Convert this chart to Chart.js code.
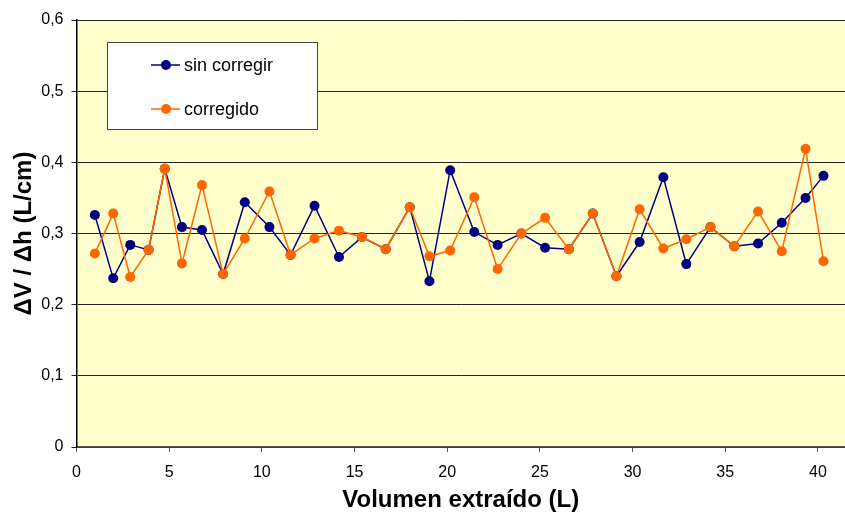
<!DOCTYPE html>
<html>
<head>
<meta charset="utf-8">
<script src="https://cdn.jsdelivr.net/npm/chart.js@4/dist/chart.umd.min.js"></script>
<style>
  html, body { margin: 0; padding: 0; background: #fff; }
  #wrap { width: 845px; height: 515px; }
</style>
</head>
<body>
<div id="wrap"><canvas id="c"></canvas></div>
<script>
// ── DATA ──────────────────────────────────────────────────────
// Volume extracted (L) at each reading
const volumen = [
  0.99, 1.98, 2.90, 3.89, 4.76, 5.69, 6.77, 7.91, 9.08, 10.41,
  11.55, 12.84, 14.16, 15.40, 16.68, 17.98, 19.04, 20.16, 21.46, 22.72,
  24.00, 25.28, 26.56, 27.85, 29.13, 30.38, 31.66, 32.90, 34.20, 35.49,
  36.77, 38.05, 39.33, 40.30
];
// ΔV / Δh (L/cm), raw readings
const sinCorregir = [
  0.326, 0.237, 0.284, 0.277, 0.391, 0.309, 0.305, 0.243, 0.344, 0.309,
  0.270, 0.339, 0.267, 0.295, 0.278, 0.337, 0.233, 0.389, 0.302, 0.284,
  0.300, 0.280, 0.278, 0.328, 0.240, 0.288, 0.379, 0.257, 0.309, 0.282,
  0.286, 0.315, 0.350, 0.381
];
// ΔV / Δh (L/cm), corrected readings
const corregido = [
  0.272, 0.328, 0.239, 0.277, 0.391, 0.258, 0.368, 0.243, 0.293, 0.359,
  0.270, 0.293, 0.304, 0.295, 0.278, 0.337, 0.268, 0.276, 0.351, 0.250,
  0.300, 0.322, 0.278, 0.328, 0.240, 0.334, 0.279, 0.292, 0.309, 0.282,
  0.331, 0.275, 0.419, 0.261
];
const xTicks = [0, 5, 10, 15, 20, 25, 30, 35, 40];
const yTicks = [0, 0.1, 0.2, 0.3, 0.4, 0.5, 0.6];

const FONT = "'Liberation Sans', Arial, sans-serif";
const toPts = ys => ys.map((y, i) => ({ x: volumen[i], y }));

// ── PLOT BACKGROUND ───────────────────────────────────────────
const plotBg = {
  id: 'plotBg',
  beforeDraw(chart) {
    const { ctx, chartArea: a } = chart;
    ctx.save();
    ctx.fillStyle = '#FFFFCC';
    ctx.fillRect(a.left, a.top, a.right - a.left, a.bottom - a.top);
    ctx.restore();
  }
};

// ── BOXED LEGEND INSIDE THE PLOT ──────────────────────────────
const boxLegend = {
  id: 'boxLegend',
  afterDraw(chart) {
    const { ctx } = chart;
    const x = 107.5, y = 42.5, w = 210, h = 87;
    ctx.save();
    ctx.fillStyle = '#fff';
    ctx.fillRect(x, y, w, h);
    ctx.strokeStyle = '#444';
    ctx.lineWidth = 1;
    ctx.strokeRect(x, y, w, h);
    ctx.font = '18px ' + FONT;
    ctx.textBaseline = 'middle';
    chart.data.datasets.forEach((ds, i) => {
      const cy = 65 + i * 44;
      ctx.strokeStyle = ds.borderColor;
      ctx.lineWidth = 1.5;
      ctx.beginPath();
      ctx.moveTo(151, cy);
      ctx.lineTo(180, cy);
      ctx.stroke();
      ctx.fillStyle = ds.pointBackgroundColor;
      ctx.beginPath();
      ctx.arc(166, cy, 5, 0, Math.PI * 2);
      ctx.fill();
      ctx.fillStyle = '#000';
      ctx.fillText(ds.label, 184, cy + 1);
    });
    ctx.restore();
  }
};

new Chart(document.getElementById('c'), {
  type: 'scatter',
  data: {
    datasets: [
      {
        label: 'sin corregir',
        data: toPts(sinCorregir),
        showLine: true,
        order: 1,
        borderColor: '#000080',
        borderWidth: 1.5,
        pointBackgroundColor: '#000080',
        pointBorderColor: '#000080',
        pointRadius: 5,
        pointBorderWidth: 0
      },
      {
        label: 'corregido',
        data: toPts(corregido),
        showLine: true,
        order: 0,
        borderColor: '#FF6600',
        borderWidth: 1.5,
        pointBackgroundColor: '#FF6600',
        pointBorderColor: '#FF6600',
        pointRadius: 5,
        pointBorderWidth: 0
      }
    ]
  },
  options: {
    responsive: true,
    maintainAspectRatio: false,
    animation: false,
    layout: { autoPadding: false, padding: { top: 20, right: 0, left: 0, bottom: 0 } },
    plugins: {
      legend: { display: false },
      tooltip: { enabled: false }
    },
    scales: {
      x: {
        type: 'linear',
        min: 0,
        max: 41.46,
        afterBuildTicks: s => { s.ticks = xTicks.map(v => ({ value: v })); },
        afterFit: s => { s.height = 68; },
        ticks: {
          color: '#000',
          font: { family: FONT, size: 16 },
          padding: 11,
          maxRotation: 0
        },
        grid: {
          drawOnChartArea: false,
          drawTicks: true,
          tickLength: 5,
          tickColor: '#555'
        },
        border: { color: '#555', width: 1.5 },
        title: {
          display: true,
          text: 'Volumen extraído (L)',
          color: '#000',
          font: { family: FONT, size: 24, weight: 'bold' },
          padding: { top: 4, bottom: 0 }
        }
      },
      y: {
        min: 0,
        max: 0.6,
        afterBuildTicks: s => { s.ticks = yTicks.map(v => ({ value: v })); },
        afterFit: s => { s.width = 76.5; },
        ticks: {
          color: '#000',
          font: { family: FONT, size: 16 },
          padding: 8,
          callback: v => v === 0 ? '0' : v.toFixed(1).replace('.', ',')
        },
        grid: {
          color: '#222',
          lineWidth: 1,
          tickLength: 5,
          tickColor: '#222'
        },
        border: { color: '#000', width: 1.5 },
        title: {
          display: true,
          text: 'ΔV / Δh (L/cm)',
          color: '#000',
          font: { family: FONT, size: 24, weight: 'bold' },
          padding: { top: 10, bottom: 0 }
        }
      }
    }
  },
  plugins: [plotBg, boxLegend]
});
</script>
</body>
</html>
